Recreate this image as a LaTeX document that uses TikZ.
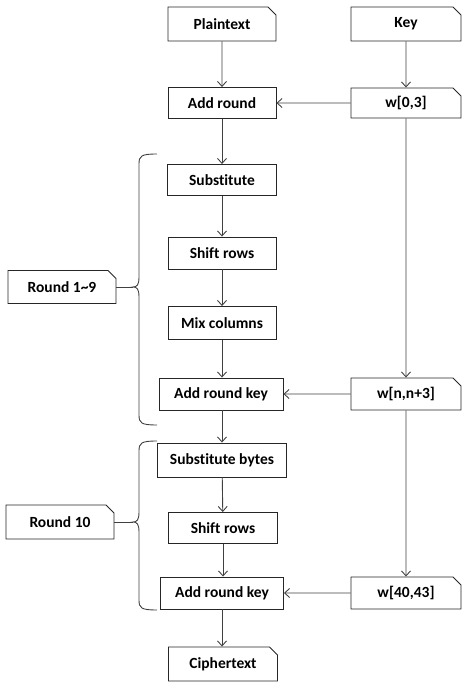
\documentclass[tikz,border=0pt]{standalone}
\usepackage{fontspec}
\setmainfont[Ligatures=NoCommon]{Carlito}
\usetikzlibrary{shapes.misc,arrows.meta}

\begin{document}
\begin{tikzpicture}[x=1pt,y=1pt]
      \tikzset{
      stepbox/.style={draw=black!85, line width=0.9pt, rectangle, minimum height=31pt,
        inner sep=2pt, font=\fontsize{15.5}{17}\selectfont\bfseries},
      cutbox/.style={stepbox, chamfered rectangle, chamfered rectangle corners=north east,
        chamfered rectangle xsep=4pt, chamfered rectangle ysep=4pt, minimum height=34pt},
      flow/.style={draw=black!75, line width=0.9pt, -{Straight Barb[length=5pt,width=9pt]}},
      bracket/.style={draw=black!75, line width=0.9pt},
      }
      \useasboundingbox (0,0) rectangle (474,689);

      %Inputs
      \node[cutbox, minimum width=108pt] (plain) at (222,665) {Plaintext};
      \node[cutbox, minimum width=110pt] (key) at (406,665) {Key};

      %Initial round
      \node[stepbox, minimum width=108pt] (addr) at (222,586) {Add round};
      \node[cutbox, minimum width=110pt, minimum height=30pt] (w0) at (406,586) {w[0,3]};

      %Rounds 1~9
      \node[stepbox, minimum width=109pt] (sub) at (222,509) {Substitute};
      \node[stepbox, minimum width=108pt, minimum height=32pt] (shift) at (222,436) {Shift rows};
      \node[stepbox, minimum width=108pt, minimum height=33pt] (mix) at (222,366) {Mix columns};
      \node[stepbox, minimum width=124pt, minimum height=32pt] (addk) at (221,295) {Add round key};
      \node[cutbox, minimum width=110pt, minimum height=32pt] (wn) at (406,295) {w[n,n+3]};
      \node[cutbox, minimum width=108pt, minimum height=33pt] (r19) at (62,402) {Round 1\textasciitilde9};

      %Round 10
      \node[stepbox, minimum width=129pt, minimum height=34pt] (subb) at (222,229) {Substitute bytes};
      \node[stepbox, minimum width=109pt] (shiftb) at (223,161) {Shift rows};
      \node[stepbox, minimum width=123pt, minimum height=32pt] (addkb) at (222,96) {Add round key};
      \node[cutbox, minimum width=110pt, minimum height=32pt] (w40) at (406,96) {w[40,43]};
      \node[cutbox, minimum width=108pt] (r10) at (60,167) {Round 10};

      %Output
      \node[cutbox, minimum width=109pt] (cipher) at (223,25) {Ciphertext};

      %braces
      \coordinate (tip19) at (133,402);
      \coordinate (tip10) at (133,167);
      \draw[bracket] (157,535) .. controls (141,535) and (139,533) .. (139,525) -- (139,412)
        .. controls (139,404) and (137,402) .. (tip19) .. controls (137,402) and (139,400) .. (139,392)
        -- (139,274) .. controls (139,266) and (141,264) .. (157,264);
      \draw[bracket] (157,248) .. controls (141,248) and (139,246) .. (139,238) -- (139,177)
        .. controls (139,169) and (137,167) .. (tip10) .. controls (137,167) and (139,165) .. (139,157)
        -- (139,89) .. controls (139,81) and (141,79) .. (157,79);
      \draw[bracket] (r19.east) -- (tip19);
      \draw[bracket] (r10.east) -- (tip10);

      %main path
      \draw[flow] (plain) -- (addr);
      \draw[flow] (addr) -- (sub);
      \draw[flow] (sub) -- (shift);
      \draw[flow] (shift) -- (mix);
      \draw[flow] (mix.south) -- (mix.south |- addk.north);
      \draw[flow] (addk.south -| subb.north) -- (subb.north);
      \draw[flow] (subb) -- (shiftb);
      \draw[flow] (shiftb.south) -- (shiftb.south |- addkb.north);
      \draw[flow] (addkb.south) -- (addkb.south |- cipher.north);

      %key schedule
      \draw[flow] (key) -- (w0);
      \draw[flow] (w0) -- (addr);
      \draw[flow] (w0) -- (wn);
      \draw[flow] (wn) -- (addk);
      \draw[flow] (wn) -- (w40);
      \draw[flow] (w40) -- (addkb);
\end{tikzpicture}
\end{document}
